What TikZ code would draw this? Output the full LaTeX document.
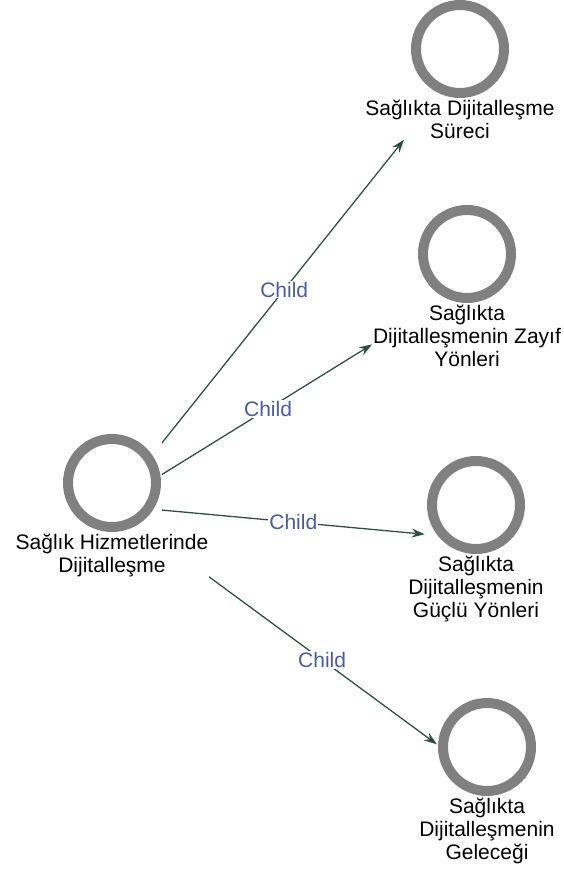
\documentclass[tikz,border=0pt]{standalone}
\usepackage{fontspec}
\setmainfont{Liberation Sans}
\usetikzlibrary{arrows.meta,positioning,fit}
\pgfdeclarelayer{edges}
\pgfsetlayers{edges,main}
\definecolor{ringgray}{RGB}{128,128,128}
\definecolor{linkgreen}{RGB}{47,79,72}
\definecolor{tipgreen}{RGB}{30,78,58}
\definecolor{childblue}{RGB}{72,92,160}
\begin{document}
\begin{tikzpicture}
    [
        x = 1pt, y = -1pt,
        ring/.style = {rectangle, minimum size = 100pt, inner sep = 0pt, outer sep = 0pt,
            path picture = {\draw[ringgray, line width = 10pt] (path picture bounding box.center) circle (44pt);}},
        rootring/.style = {ring, fill = white},
        caption/.style = {align = center, font = \fontsize{21}{23}\selectfont, inner sep = 1pt, outer sep = 0pt},
        rootcaption/.style = {caption, fill = white},
        group/.style = {inner sep = 0pt, outer sep = 0pt},
        link/.style = {draw = linkgreen, line width = 1.3pt, -{Stealth[length = 13pt, width = 9pt, fill = tipgreen]}},
        tag/.style = {fill = white, text = childblue, font = \fontsize{21}{23}\selectfont, inner sep = 1pt}
    ]

        \useasboundingbox (0,0) rectangle (564,870);

        \node[rootring] (hub) at (112,483) {};
        \node[rootcaption, below = 0pt of hub] (hubtext) {Sağlık Hizmetlerinde\\Dijitalleşme};
        \node[group, fit = (hub) (hubtext)] (root) {};

        \node[ring] (surec) at (460,49) {};
        \node[caption, below = 0pt of surec] (surectext) {Sağlıkta Dijitalleşme\\Süreci};
        \node[group, fit = (surec) (surectext)] (surecbox) {};

        \node[ring] (zayif) at (467,254) {};
        \node[caption, below = 0pt of zayif] (zayiftext) {Sağlıkta\\Dijitalleşmenin Zayıf\\Yönleri};
        \node[group, fit = (zayif) (zayiftext)] (zayifbox) {};

        \node[ring] (guclu) at (476,505) {};
        \node[caption, below = 0pt of guclu] (guclutext) {Sağlıkta\\Dijitalleşmenin\\Güçlü Yönleri};
        \node[group, fit = (guclu) (guclutext)] (guclubox) {};

        \node[ring] (gelecek) at (487,747) {};
        \node[caption, below = 0pt of gelecek] (gelecektext) {Sağlıkta\\Dijitalleşmenin\\Geleceği};
        \node[group, fit = (gelecek) (gelecektext)] (gelecekbox) {};

        \begin{pgfonlayer}{edges}
            \draw[link] (root.center) -- (surecbox)
                node[tag, pos = 0.59] (tag1) {Child};
            \draw[link] (root.center) -- (zayifbox)
                node[tag, pos = 0.6] (tag2) {Child};
            \draw[link, shorten > = -17.5pt] (root.center) -- (guclubox)
                node[tag, pos = 0.614] (tag3) {Child};
            \draw[link, shorten > = -23pt] (root.center) -- (gelecekbox)
                node[tag, pos = 0.686] (tag4) {Child};
        \end{pgfonlayer}
    \end{tikzpicture}
\end{document}
